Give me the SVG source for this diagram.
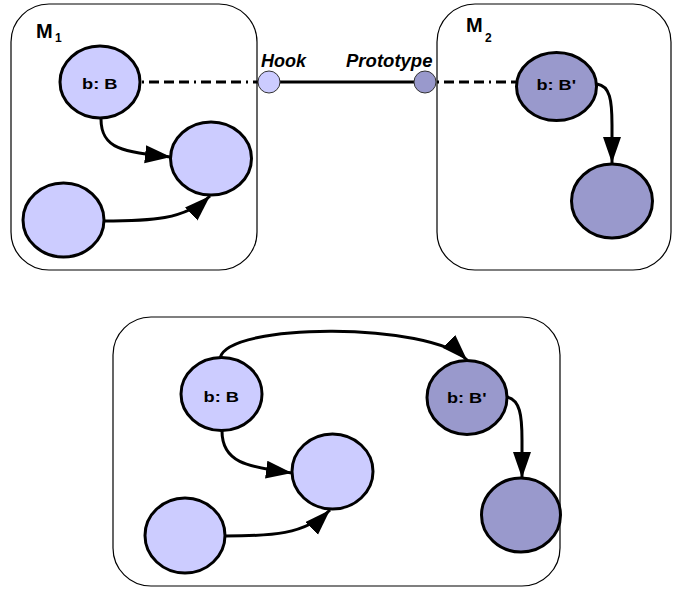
<svg xmlns="http://www.w3.org/2000/svg" width="673" height="590" viewBox="0 0 673 590">
<style>
.box{fill:#ffffff;stroke:#000000;stroke-width:1.2}
.light{fill:#ccccff;stroke:#000000;stroke-width:3}
.dark{fill:#9999cc;stroke:#000000;stroke-width:3}
.port-l{fill:#ccccff;stroke:#333333;stroke-width:1}
.port-d{fill:#9999cc;stroke:#333333;stroke-width:1}
.edge{fill:none;stroke:#000000;stroke-width:3}
.dash{fill:none;stroke:#000000;stroke-width:3;stroke-dasharray:2 5 10 5 10 5 10 5}
.lbl{font-family:"Liberation Sans",Arial,sans-serif;font-weight:bold;font-size:15px;fill:#000000}
.port{font-family:"Liberation Sans",Arial,sans-serif;font-weight:bold;font-style:italic;font-size:17.5px;fill:#000000}
.mod{font-family:"Liberation Sans",Arial,sans-serif;font-weight:bold;font-size:20px;fill:#000000}
.sub{font-family:"Liberation Sans",Arial,sans-serif;font-weight:bold;font-size:12px;fill:#000000}
</style>
<defs>
<marker id="arr" markerUnits="userSpaceOnUse" markerWidth="28" markerHeight="20" refX="26" refY="9" orient="auto">
<path d="M0,0 L26,9 L0,18 z" fill="#000000"/>
</marker>
</defs>

<g id="M1">
<rect class="box" x="11" y="4" width="246" height="266" rx="38" ry="38"/>
<text class="mod" x="36" y="37.5">M</text><text class="sub" x="55" y="42">1</text>
</g>
<g id="M2">
<rect class="box" x="437" y="4" width="234" height="266" rx="38" ry="38"/>
<text class="mod" x="466" y="31.5">M</text><text class="sub" x="485" y="41.5">2</text>
</g>
<g id="M3">
<rect class="box" x="113" y="317" width="447" height="269" rx="38" ry="38"/>
</g>

<g id="connectors">
<line class="dash" x1="142" y1="82" x2="258" y2="82"/>
<line class="edge" x1="280" y1="82" x2="414" y2="82"/>
<line class="dash" x1="437" y1="82" x2="516" y2="82"/>
<path class="edge" d="M101,119 C101,150 125,152 171,157" marker-end="url(#arr)"/>
<path class="edge" d="M103,221 C150,221 185,220 210,196" marker-end="url(#arr)"/>
<path class="edge" d="M597,84 C610,86 612,100 612,125 L612,163" marker-end="url(#arr)"/>
<path class="edge" d="M222,431 C222,462 246,467 292,473" marker-end="url(#arr)"/>
<path class="edge" d="M225,536 C270,536 305,535 330,510" marker-end="url(#arr)"/>
<path class="edge" d="M220,358 C228,322 430,322 467,360" marker-end="url(#arr)"/>
<path class="edge" d="M507,397 C520,400 522,415 522,440 L522,478" marker-end="url(#arr)"/>
</g>

<g id="hook">
<circle class="port-l" cx="269" cy="82" r="11"/>
<text class="port" x="261" y="66.5" textLength="45" lengthAdjust="spacingAndGlyphs">Hook</text>
</g>
<g id="prototype">
<circle class="port-d" cx="425" cy="82" r="11"/>
<text class="port" x="346" y="66.5" textLength="86.5" lengthAdjust="spacingAndGlyphs">Prototype</text>
</g>

<g id="m1-b">
<ellipse class="light" cx="100" cy="82" rx="40" ry="36"/>
<text class="lbl" x="82" y="89.3" textLength="35.5" lengthAdjust="spacingAndGlyphs">b: B</text>
</g>
<g id="m1-n2">
<ellipse class="light" cx="211" cy="158.5" rx="40.5" ry="36.5"/>
</g>
<g id="m1-n3">
<ellipse class="light" cx="63.5" cy="220" rx="40.5" ry="37"/>
</g>

<g id="m2-b">
<ellipse class="dark" cx="556.5" cy="86.5" rx="40" ry="34"/>
<text class="lbl" x="536.5" y="90" textLength="39.5" lengthAdjust="spacingAndGlyphs">b: B'</text>
</g>
<g id="m2-n2">
<ellipse class="dark" cx="612" cy="201" rx="40.5" ry="37"/>
</g>

<g id="m3-b">
<ellipse class="light" cx="221.5" cy="394" rx="40.5" ry="36.5"/>
<text class="lbl" x="203.5" y="401.5" textLength="35.5" lengthAdjust="spacingAndGlyphs">b: B</text>
</g>
<g id="m3-n2">
<ellipse class="light" cx="332.5" cy="471.5" rx="40.5" ry="37.5"/>
</g>
<g id="m3-n3">
<ellipse class="light" cx="185" cy="535.5" rx="40" ry="37.5"/>
</g>
<g id="m3-bp">
<ellipse class="dark" cx="467" cy="397.5" rx="40" ry="37"/>
<text class="lbl" x="447" y="402.5" textLength="39.5" lengthAdjust="spacingAndGlyphs">b: B'</text>
</g>
<g id="m3-n4">
<ellipse class="dark" cx="521" cy="515" rx="39.5" ry="37"/>
</g>
</svg>
